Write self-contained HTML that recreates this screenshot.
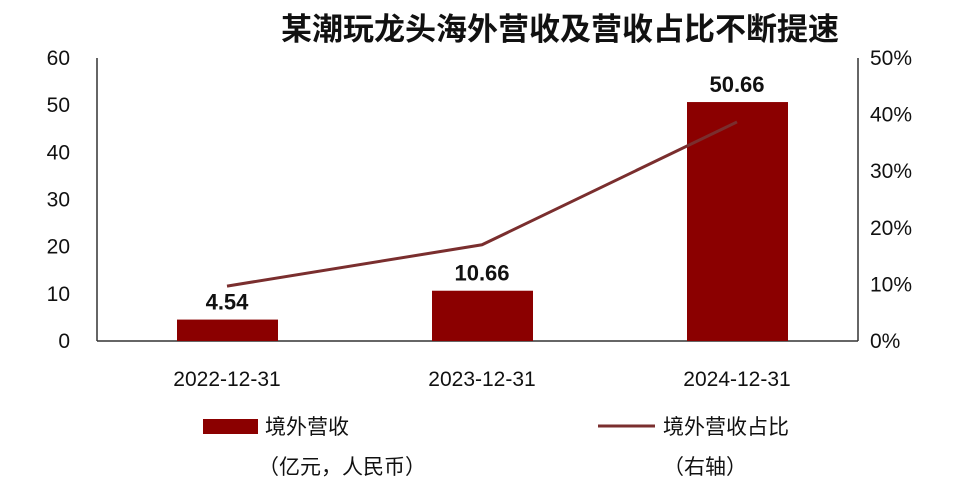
<!DOCTYPE html>
<html><head><meta charset="utf-8"><style>
body{margin:0;background:#fff;}
svg text{font-family:"Liberation Sans","Noto Sans CJK SC",sans-serif;}
</style></head><body>
<svg id="chart" width="956" height="493" xmlns="http://www.w3.org/2000/svg">
<text x="560" y="40" text-anchor="middle" font-size="31" font-weight="bold" fill="#111">某潮玩龙头海外营收及营收占比不断提速</text>
<g id="axes"></g>
<g id="marks"></g>
<g>
<rect x="203" y="419" width="55" height="15" fill="#8B0000"/>
<text x="265" y="434" font-size="21" fill="#111">境外营收</text>
<text x="258" y="474" font-size="21" fill="#111">（亿元，人民币）</text>
<line x1="598" y1="426" x2="655" y2="426" stroke="#7a2e2e" stroke-width="3"/>
<text x="663" y="434" font-size="21" fill="#111">境外营收占比</text>
<text x="663" y="474" font-size="21" fill="#111">（右轴）</text>
</g>
</svg>
<script>
const categories=["2022-12-31","2023-12-31","2024-12-31"];
const revenue=[4.54,10.66,50.66];
const share=[9.7,17.0,38.7];
const leftTicks=[0,10,20,30,40,50,60];
const rightTicks=[0,10,20,30,40,50];
const NS="http://www.w3.org/2000/svg";
const x0=97,x1=858,yTop=58,yBot=341;
const yL=v=>yBot-(v/60)*(yBot-yTop);
const yR=v=>yBot-(v/50)*(yBot-yTop);
const band=255;
const xC=i=>99.5+band*(i+0.5);
function mk(tag,attrs,parent){const e=document.createElementNS(NS,tag);for(const k in attrs)e.setAttribute(k,attrs[k]);parent.appendChild(e);return e;}
const axes=document.getElementById('axes'),marks=document.getElementById('marks');
let a=mk('line',{x1:x0,y1:yTop,x2:x0,y2:yBot,stroke:'#333','stroke-width':1.5},axes);


a=mk('line',{x1:x1,y1:yTop,x2:x1,y2:yBot,stroke:'#333','stroke-width':1.5},axes);


a=mk('line',{x1:x0,y1:yBot,x2:x1,y2:yBot,stroke:'#333','stroke-width':1.5},axes);


leftTicks.forEach(v=>{const t=mk('text',{x:70,y:yL(v)+7,'text-anchor':'end','font-size':21,fill:'#111'},axes);t.textContent=v;

});
rightTicks.forEach(v=>{const t=mk('text',{x:870,y:yR(v)+7,'font-size':21,fill:'#111'},axes);t.textContent=v+'%';

});
categories.forEach((c,i)=>{const t=mk('text',{x:xC(i),y:386,'text-anchor':'middle','font-size':21,fill:'#111'},axes);t.textContent=c;

});
revenue.forEach((v,i)=>{const r=mk('rect',{x:xC(i)-50,y:yL(v),width:101,height:yBot-yL(v),fill:'#8B0000'},marks);


const t=mk('text',{x:xC(i),y:yL(v)-10,'text-anchor':'middle','font-size':22,'font-weight':'bold',fill:'#111'},marks);t.textContent=v.toFixed(2);

});
const pl=mk('polyline',{points:share.map((v,i)=>xC(i)+','+yR(v)).join(' '),fill:'none',stroke:'#7a2e2e','stroke-width':3},marks);


</script>
</body></html>
